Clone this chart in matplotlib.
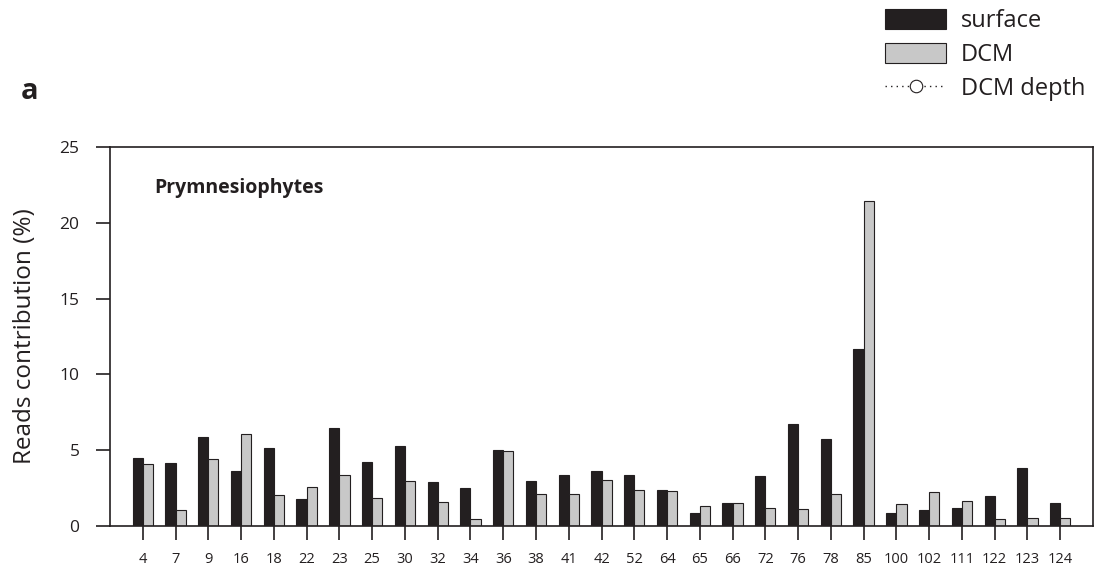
import matplotlib
matplotlib.use("Agg")
import matplotlib.pyplot as plt
from matplotlib.patches import Patch
from matplotlib.lines import Line2D
import numpy as np

plt.rcParams['font.family'] = ['Open Sans', 'DejaVu Sans']

stations = ["4", "7", "9", "16", "18", "22", "23", "25", "30", "32", "34", "36", "38", "41",
            "42", "52", "64", "65", "66", "72", "76", "78", "85", "100", "102", "111", "122",
            "123", "124"]
surface = [4.5, 4.13, 5.85, 3.65, 5.17, 1.78, 6.44, 4.2, 5.3, 2.9, 2.5, 5.01, 2.95, 3.36,
           3.63, 3.36, 2.4, 0.86, 1.54, 3.32, 6.71, 5.72, 11.66, 0.88, 1.06, 1.21, 1.98,
           3.83, 1.52]
dcm = [4.07, 1.03, 4.44, 6.07, 2.02, 2.55, 3.39, 1.83, 2.97, 1.56, 0.46, 4.95, 2.13, 2.09,
       3.01, 2.37, 2.31, 1.32, 1.5, 1.17, 1.1, 2.13, 21.46, 1.43, 2.26, 1.67, 0.46,
       0.51, 0.51]
yticks = [0, 5, 10, 15, 20, 25]

dark = "#231f20"
grey = "#c8c8c8"

fig = plt.figure(figsize=(10.96, 5.70), dpi=100)
ax = fig.add_axes([110/1096, 44/570, (1093-110)/1096, (526-147)/570])

x = np.arange(len(stations))
w = 0.31
ax.bar(x, surface, width=-w, align='edge', color=dark, edgecolor=dark, linewidth=0.8)
ax.bar(x, dcm, width=w, align='edge', color=grey, edgecolor=dark, linewidth=0.8)

ax.set_xlim(-1, len(stations))
ax.set_ylim(0, 25)
ax.set_yticks(yticks)
ax.set_xticks(x)
ax.set_xticklabels(stations)
ax.tick_params(axis='y', direction='out', length=10, width=1.2, pad=12, labelsize=12.5,
               colors='#231f20')
ax.tick_params(axis='x', direction='out', length=10, width=1.2, pad=9, labelsize=10.5,
               colors='#231f20')
for s in ax.spines.values():
    s.set_linewidth(1.2)
    s.set_color('#231f20')

ax.set_ylabel("Reads contribution (%)", fontsize=17.5, color='#231f20', labelpad=16.5)
ax.text(0.045, 0.892, "Prymnesiophytes", transform=ax.transAxes, fontsize=14,
        fontweight='bold', color='#231f20', va='center', ha='left')
fig.text(21/1096, 1 - 91/570, "a", fontsize=21, fontweight='bold', color='#231f20',
         va='center', ha='left')

handles = [Patch(facecolor=dark, edgecolor=dark, linewidth=0.8),
           Patch(facecolor=grey, edgecolor=dark, linewidth=0.8),
           Line2D([], [], color=dark, linestyle=(0, (1, 3)), linewidth=1,
                  marker='o', markersize=9, markerfacecolor='white',
                  markeredgecolor=dark, markeredgewidth=0.8)]
fig.legend(handles, ["surface", "DCM", "DCM depth"], loc='upper left',
           bbox_to_anchor=(885/1096, 1 - 9/570), frameon=False, fontsize=17,
           handlelength=2.6, handleheight=0.9, handletextpad=0.6,
           labelspacing=0.42, borderpad=0, borderaxespad=0, labelcolor='#231f20')

fig.savefig("out.png", dpi=100)
